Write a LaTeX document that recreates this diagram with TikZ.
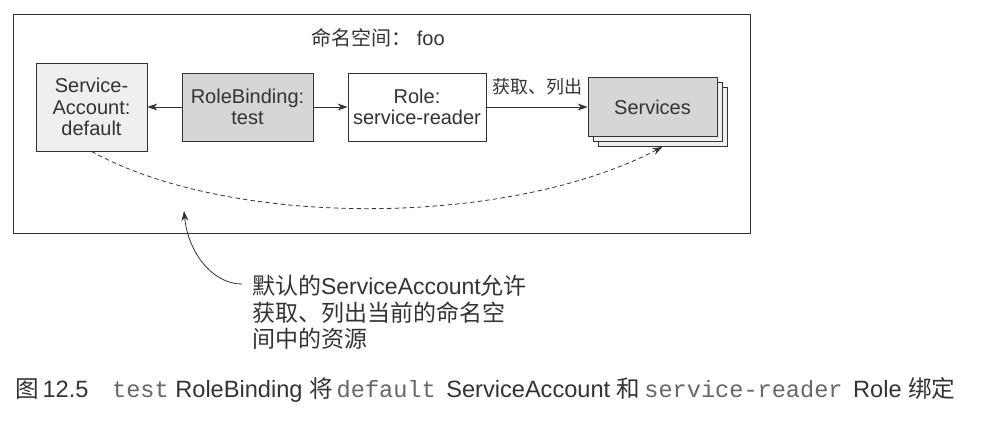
\documentclass[tikz,border=0pt]{standalone}
\usepackage{fontspec}
\setmainfont{Liberation Sans}
\setmonofont{Liberation Mono}
\newfontfamily\cjk{Noto Sans CJK SC}
\usetikzlibrary{arrows.meta,positioning}
\definecolor{inkgray}{HTML}{333333}
\definecolor{monogray}{HTML}{666666}
\definecolor{boxlight}{HTML}{EFEFEF}
\definecolor{boxdark}{HTML}{D6D6D6}

\begin{document}
\begin{tikzpicture}[x=0.5pt,y=-0.5pt,>={Stealth[length=5pt,width=3.5pt]},
  every node/.style={font=\fontsize{10}{10.7}\selectfont,text=inkgray},
  obj/.style={draw=inkgray,align=center,inner sep=0pt}]
\useasboundingbox (0,0) rectangle (988,429);
\draw[inkgray] (13,14) rectangle (750,233);
\node (ns) at (378,38) {{\cjk 命名空间：} foo};
\node[obj,fill=boxlight,minimum width=55.5pt,minimum height=44pt] (sa) at (91.5,107) {Service-\\Account:\\default};
\node[obj,fill=boxdark,minimum width=65.5pt,minimum height=34pt] (rb) at (247.5,107) {RoleBinding:\\test};
\node[obj,fill=white,minimum width=69pt,minimum height=34pt] (role) at (417,107) {Role:\\service-reader};
% stacked services
\node[obj,fill=boxlight,minimum width=64.5pt,minimum height=29.5pt] (svcc) at (662.5,117) {};
\node[obj,fill=boxlight,minimum width=64.5pt,minimum height=29.5pt] (svcb) at (657.5,112) {};
\node[obj,fill=boxdark,minimum width=64.5pt,minimum height=29.5pt] (svc) at (652.5,107) {Services};
\draw[->,inkgray] (rb) -- (sa);
\draw[->,inkgray] (rb) -- (role);
\draw[->,inkgray] (role) -- (svc) node[midway,above=2.5pt,font=\fontsize{9}{10}\selectfont] {\cjk 获取、列出};
\draw[->,inkgray,dash pattern=on 2.2pt off 1.6pt] (sa.south) .. controls (230,228) and (506,228) .. (svcc.south);
% note below the frame
\node[anchor=north west,align=left,font=\fontsize{11.5}{13.3}\selectfont] (note) at (245,268) {{\cjk 默认的}ServiceAccount{\cjk 允许}\\{\cjk 获取、列出当前的命名空}\\{\cjk 间中的资源}};
\coordinate (tip) at (184,211);
\coordinate (notefoot) at (242,284);
\draw[->,inkgray] (notefoot) .. controls (212,284) and (188,252) .. (tip);
\node[anchor=west,font=\fontsize{11.8}{13}\selectfont] (cap) at (8,390) {{\cjk 图}\,12.5\quad{\ttfamily\color{monogray}test} RoleBinding {\cjk 将}\,{\ttfamily\color{monogray}default}\, ServiceAccount {\cjk 和}\,{\ttfamily\color{monogray}service-reader}\, Role {\cjk 绑定}};
\end{tikzpicture}
\end{document}
